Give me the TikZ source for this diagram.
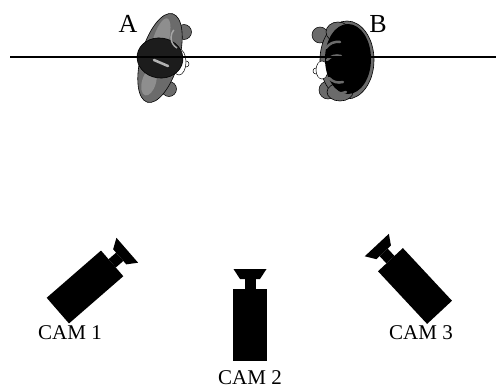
\documentclass[tikz,border=0pt]{standalone}
\usepackage{fontspec}
\setmainfont{Liberation Serif}

\definecolor{coat}{HTML}{6B6B6B}
\definecolor{coatlight}{HTML}{8E8E8E}
\definecolor{hair}{HTML}{1C1C1C}

\tikzset{
  shoulder/.style={fill=coat, draw=black, line width=0.6},
  hand/.style={fill=coat, draw=black, line width=0.5},
  head/.style={fill=hair, draw=black, line width=0.6},
  face/.style={fill=white, draw=black, line width=0.5},
  camlabel/.style={font=\fontsize{21}{21}\selectfont},
  personlabel/.style={font=\fontsize{26}{26}\selectfont},
  % video camera seen from above, lens pointing up
  camera/.pic={
    \fill (-17,-36) rectangle (17,36);
    \fill (-5.5,-36) rectangle (5.5,-46);
    \fill (-10,-46) -- (10,-46) -- (16.5,-56) -- (-16.5,-56) -- cycle;
  }
}

\begin{document}
\begin{tikzpicture}[x=1pt, y=-1pt]
  \useasboundingbox (0,0) rectangle (496,388);

  % person A, facing right
  \begin{scope}[shift={(160,58)}]
    \filldraw[hand] (24,-26) circle (7.5);
    \filldraw[hand] (9,31) circle (7.5);
    \filldraw[shoulder, rotate=74] (0,0) ellipse (46 and 19);
    \fill[coatlight, rotate=74] (14,-4) ellipse (26 and 8);
    \fill[coatlight, rotate=74] (-26,-4) ellipse (14 and 7);
    \filldraw[face] (26,6) circle (3);
    \filldraw[face] (19,4) ellipse (7 and 13);
    \filldraw[head, rotate=-8] (0,0) ellipse (23 and 20);
    \draw[gray!60, line width=2.5, line cap=round] (-6,2) -- (8,8);
    \draw[gray!70, line width=1.5] (17,-10) arc (-60:40:-12);
  \end{scope}

  % person B, facing left
  \begin{scope}[shift={(344,60)}]
    \filldraw[hand] (-24,-25) circle (8);
    \filldraw[hand] (-16,30) circle (9);
    \filldraw[shoulder] (3,0) ellipse (27 and 39);
    \filldraw[shoulder] (-6,-28) ellipse (12 and 10);
    \filldraw[shoulder] (-4,32) ellipse (13 and 9);
    \filldraw[face] (-28,11) circle (3);
    \filldraw[face] (-22,10) ellipse (6 and 9);
    \fill[black] (4,-1) ellipse (23 and 35);
    \draw[coat, line width=2.5, line cap=round] (-18,-12) to[bend left] (-4,-18);
    \draw[coat, line width=2.5, line cap=round] (-17,0) to[bend left] (-3,-4);
    \draw[coat, line width=2.5, line cap=round] (-15,18) to[bend right] (-1,22);
    \draw[coat, line width=2.5, line cap=round] (-12,30) to[bend right] (2,32);
  \end{scope}

  % line of action
  \coordinate (lineL) at (10,57);
  \coordinate (lineR) at (496,57);
  \draw[line width=1.4] (lineL) -- (lineR);

  \node[personlabel] (labA) at (128,24) {A};
  \node[personlabel] (labB) at (378,24) {B};

  % the three cameras
  \pic (cam1) [rotate=-49] at (85,287) {camera};
  \pic (cam2) at (250,325) {camera};
  \pic (cam3) [rotate=43] at (415,286) {camera};

  \node[camlabel] (lab1) at (70,333) {CAM 1};
  \node[camlabel] (lab2) at (250,378) {CAM 2};
  \node[camlabel] (lab3) at (421,333) {CAM 3};
\end{tikzpicture}
\end{document}
